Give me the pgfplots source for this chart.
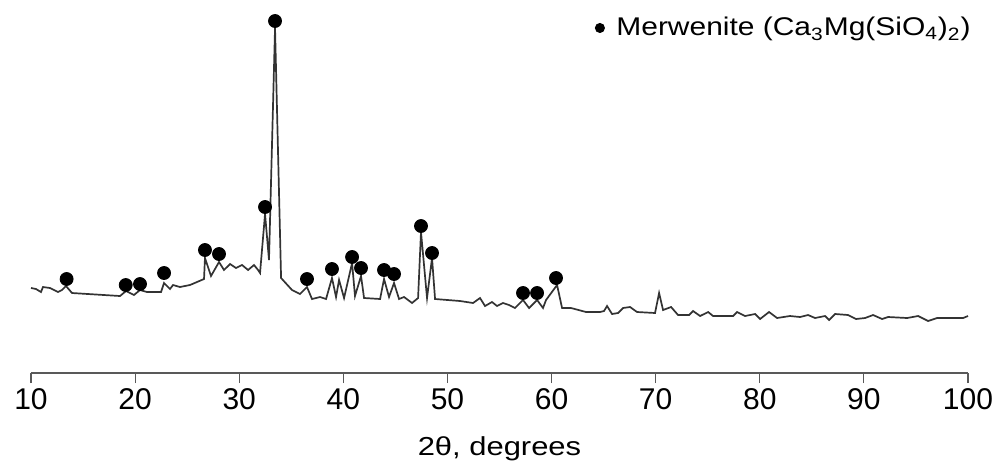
\documentclass[border=0pt]{standalone}
\usepackage{fontspec}
\setmainfont{Liberation Sans}
\newfontfamily\labfont{Liberation Sans}[FakeStretch=1.19]
\newfontfamily\legfont{Liberation Sans}[FakeStretch=1.17]
\usepackage{pgfplots}
\pgfplotsset{compat=1.18}
\begin{document}
\begin{tikzpicture}
\useasboundingbox (-15.5pt,-45pt) rectangle (485.5pt,186.5pt);
\begin{axis}[
  scale only axis, width=468.5pt, height=186.5pt,
  xmin=10, xmax=100, ymin=0, ymax=373,
  axis x line*=bottom, axis y line=none,
  x axis line style={draw=black!65, line width=0.6pt, -},
  xtick={10,20,...,100},
  tick align=outside, major tick length=5pt,
  tick style={draw=black!65, line width=0.6pt},
  /pgf/number format/assume math mode=true,
  xticklabel style={font=\fontsize{15}{18}\selectfont, inner sep=0pt, yshift=-2.5pt},
  xlabel={2θ, degrees},
  xlabel style={at={(axis description cs:0.5,0)}, anchor=base, yshift=-41pt, font=\labfont\fontsize{13}{15}\selectfont, inner sep=0pt},
  legend style={draw=none, fill=none, inner sep=0pt, at={(0.6014,0.925)}, anchor=west,
    nodes={inner sep=0pt}, column sep=5.75pt, font=\legfont\fontsize{12.8}{15}\selectfont},
  legend cell align=left,
  clip=false,
]
\addplot[black!80, line width=0.85pt, forget plot] coordinates {
(10.00,85) (10.48,84) (10.96,81) (11.15,86) (11.83,85) (12.59,81) (12.98,83)
(13.36,87) (13.94,80) (18.55,77) (19.13,82) (19.89,78) (20.47,83) (21.14,81)
(22.49,81) (22.78,90) (23.35,84) (23.64,88) (24.31,86) (25.27,88) (26.62,94)
(26.71,115) (27.29,97) (28.06,111) (28.54,103) (29.12,109) (29.69,105) (30.27,108)
(30.85,103) (31.42,108) (31.81,103) (32.00,100) (32.48,159) (32.86,113) (33.44,345)
(34.02,95) (35.07,83) (35.84,79) (36.51,86) (36.99,74) (37.76,76) (38.34,74)
(38.91,95) (39.30,76) (39.59,93) (40.07,75) (40.84,110) (41.12,77) (41.70,97)
(41.99,75) (43.53,74) (43.91,94) (44.39,76) (44.87,90) (45.35,74) (45.83,76)
(46.60,70) (47.18,75) (47.46,141) (48.04,75) (48.52,115) (48.81,74) (51.21,72)
(52.46,70) (53.13,75) (53.61,67) (54.28,71) (54.76,67) (55.34,70) (55.92,68)
(56.49,65) (57.26,73) (57.84,65) (58.61,73) (59.18,65) (59.47,73) (60.53,88)
(61.01,65) (61.87,65) (63.31,61) (64.66,61) (65.04,62) (65.33,67) (65.81,59)
(66.39,60) (66.87,65) (67.54,66) (68.21,61) (69.94,60) (70.33,80) (70.71,63)
(71.48,66) (72.15,58) (73.21,58) (73.59,62) (74.27,57) (75.04,61) (75.51,57)
(77.44,57) (77.82,61) (78.59,57) (79.55,59) (80.03,54) (80.89,61) (81.66,55)
(82.90,57) (83.87,56) (84.64,58) (85.31,55) (86.27,57) (86.66,53) (87.23,59)
(88.48,58) (89.25,54) (90.12,55) (90.88,58) (91.75,54) (92.32,56) (94.15,55)
(95.21,57) (96.17,52) (97.03,55) (99.53,55) (100.0,57)
};
\addplot[only marks, mark=*, mark size=3.25pt, black,
  legend image code/.code={\fill[black] (0pt,0pt) circle (2.3pt);}] coordinates {
(13.42,94) (19.10,88) (20.47,89) (22.78,100) (26.71,123) (28.06,119) (32.48,166)
(33.44,352) (36.51,94) (38.91,104) (40.84,116) (41.70,105) (43.91,103) (44.87,99)
(47.46,147) (48.52,120) (57.26,80) (58.61,80) (60.43,95)
};
\addlegendentry{Merwenite (Ca\textsubscript{3}Mg(SiO\textsubscript{4})\textsubscript{2})}
\end{axis}
\end{tikzpicture}
\end{document}
